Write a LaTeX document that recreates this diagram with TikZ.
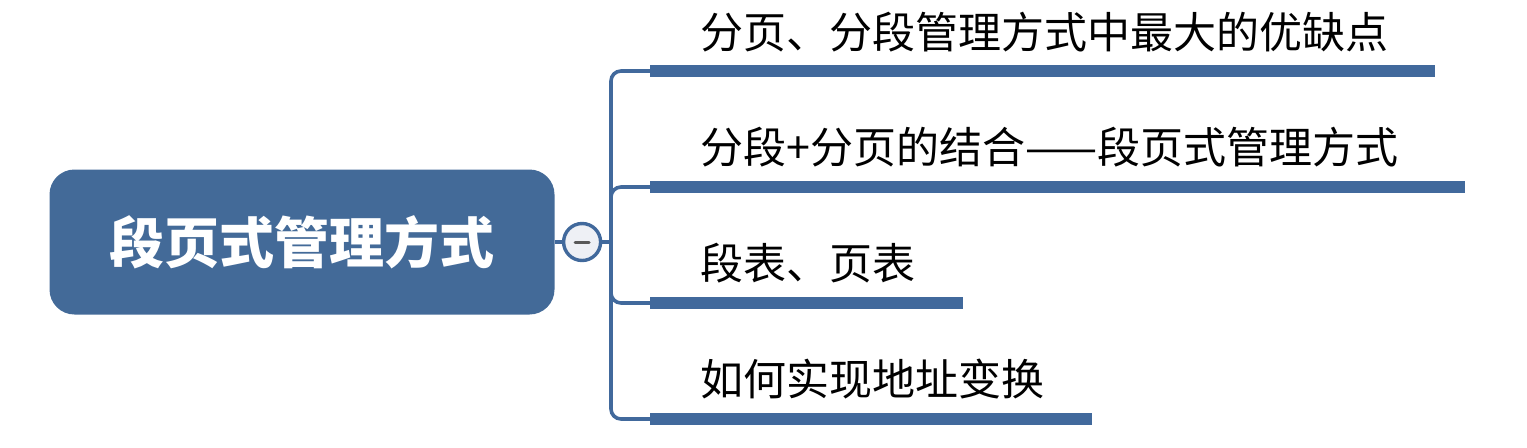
\documentclass[tikz,border=0pt]{standalone}
\usepackage{fontspec}
\newfontfamily\cjk{Noto Sans CJK SC}
\usetikzlibrary{positioning}
\definecolor{topicblue}{HTML}{436A98}
\definecolor{barblue}{HTML}{41699C}
\definecolor{togfill}{HTML}{EEF0F5}
\tikzstyle{root} = [rectangle, rounded corners=12.5pt, fill=topicblue, text=white, minimum width=252.5pt, minimum height=72.5pt, font=\cjk\bfseries\fontsize{27.5}{30}\selectfont]
\tikzstyle{toggle} = [circle, draw=barblue, fill=togfill, line width=1.7pt, minimum size=18.5pt, inner sep=0pt]
\tikzstyle{topic} = [anchor=west, inner sep=0pt, font=\cjk\fontsize{21.5}{24}\selectfont]
\tikzstyle{link} = [draw=barblue, line width=1.8pt, rounded corners=5pt]
\tikzstyle{bar} = [draw=barblue, line width=6pt]

\begin{document}
\begin{tikzpicture}[x=0.5pt, y=-0.5pt]
\useasboundingbox (0,0) rectangle (1527,447);

\node [root] (main) at (302,242) {段页式管理方式};
\node [toggle, right=3.5pt of main] (tog) {};
\coordinate (trunk) at (611,242);

% branch ends
\coordinate (b1s) at (650,71);  \coordinate (b1e) at (1435,71);
\coordinate (b2s) at (650,187); \coordinate (b2e) at (1465,187);
\coordinate (b3s) at (650,303); \coordinate (b3e) at (963,303);
\coordinate (b4s) at (650,419); \coordinate (b4e) at (1092,419);

\node [topic] (t1) at (700,32) {分页、分段管理方式中最大的优缺点};
\node [topic] (t2) at (700,147) {分段+分页的结合——段页式管理方式};
\node [topic] (t3) at (700,263) {段表、页表};
\node [topic] (t4) at (700,379) {如何实现地址变换};

\draw [link] (main.east) -- (tog.west);
\draw [link] (tog.east) -- (trunk);
\foreach \b in {1,2,3,4} {
  \draw [link] (trunk) |- (b\b s);
  \draw [bar] (b\b s) -- (b\b e);
}
\draw [black!65, line width=1.5pt, line cap=round] ([xshift=-3.5pt]tog.center) -- ([xshift=3.5pt]tog.center);
\end{tikzpicture}
\end{document}
